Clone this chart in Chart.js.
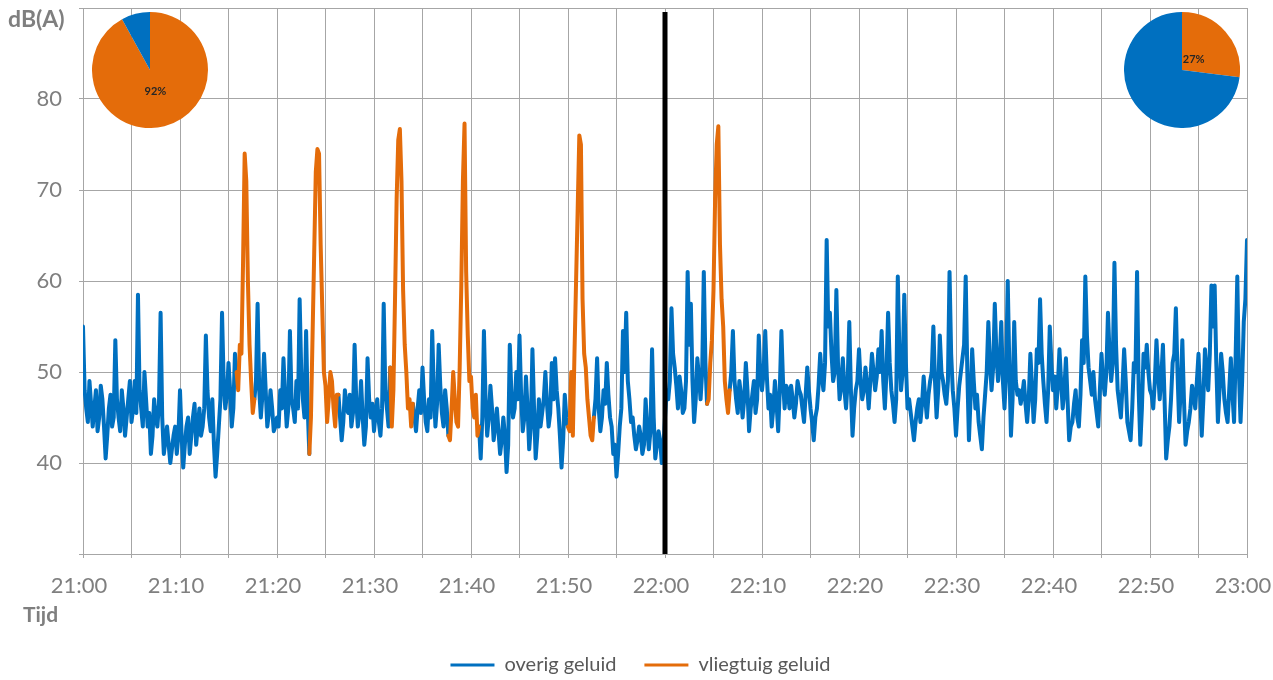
<!DOCTYPE html>
<html>
<head>
<meta charset="utf-8">
<script src="https://cdn.jsdelivr.net/npm/chart.js@4/dist/chart.umd.min.js"></script>
<style>
  body { margin: 0; background: #fff; }
  #wrap { position: relative; width: 1273px; height: 680px; }
  #taart1, #taart2 { position: absolute; top: 12px; }
  #taart1 { left: 92px; }
  #taart2 { left: 1124px; }
</style>
</head>
<body>
<div id="wrap">
  <canvas id="grafiek" width="1273" height="680"></canvas>
  <canvas id="taart1" width="116" height="116"></canvas>
  <canvas id="taart2" width="116" height="116"></canvas>
</div>
<script>
// tijd in seconden na 21:00, elke 10 seconden een meting
const stapOverig = 10;
const overig = [
  // 21:00
  55,48,46,44.5,49,46.5,44,46,48,43.5,45,48.5,47,44,40.5,43,46,47.5,44,45,53.5,47,45,43.5,48,46,43,45,47,49,
  44.5,46,49,45.5,58.5,48,46,44,50,47,44,45.5,41,43,47,45,44,46.5,56.5,45,41,42.5,44,42,40,41.5,43,44,41,43,
  // 21:10
  48,43,39.5,42,44,45,41,43,45,46.5,42,44,46,43,44,46,54,48,45,43.5,47,42,38.5,41,44,47,56.5,49,46,47.5,
  51,48,44,46,52,50,null,null,null,null,null,null,null,null,null,null,47,49,57.5,48,45,47.5,52,48,44,45.5,48,46,43.5,44,
  // 21:20
  45,44,48,46,51.5,47.5,44,46,54.5,47,46,44.5,49,46,58,50,47,45,54.5,46,41,
  null,null,null,null,null,null,null,null,null,null,null,null,null,null,null,null,null,
  47.5,45,42.5,44.5,48,46,45.5,47.5,44,45.5,53,47,44,45.5,49,45,42,44,51.5,47,45,46.5,
  // 21:30
  43.5,45.5,47,44.5,43,46,57.5,48,46,44,50.5,
  null,null,null,null,null,null,null,null,null,null,null,null,null,
  46.5,45,43.5,46,48,45.5,50.5,47,44.5,43.5,47,45,54.5,48,44,46.5,53,48.5,45.5,44,48,46,43,
  null,null,null,null,null,null,null,null,null,null,null,null,null,
  // 21:40
  null,null,null,null,null,44,40.5,45,54.5,47,43,45,48.5,46,42.5,44,46,43.5,41,42.5,45,43,39,42,53,47.5,45,46,50,47,
  54,47.5,43.5,45,49.5,46,41.5,44,52.5,46,40.5,43,47,44,45.5,47,50,46.5,44,45.5,51,47,51.5,48,46,43,39.5,42.5,47.5,45,
  // 21:50
  44,null,null,null,null,null,null,null,null,null,null,null,null,null,null,null,
  45,47,51.5,46,43.5,45,48,46.5,51,47.5,45,44,41,42,38.5,41,44,46,54.5,50,56.5,49,47,44.5,45,43,41.5,42.5,
  44,43,41,42,47,44,41.5,43.5,52.5,45,40.5,42,43.5,42.5,40,41.5,
  // 22:00
  45,48,47,49,57,52,50.5,48.5,46,49.5,48,45.5,46,49,61,53,57.5,49,44.5,47,51.5,49.5,47,50,61,51,46.5,
  null,null,null,null,null,null,null,null,null,null,null,null,null,
  48,50,54.5,49,47,45.5,49,47.5,45,47,51,48,43.5,46,47.5,49,45.5,47,54,49.5,
  // 22:10
  48,50,54.5,49.5,46,47.5,44,46,49,46.5,43.5,48,54.5,49,46,48.5,48,46,48.5,47,45,46.5,49,48,47.5,46,44.5,47.5,50.5,48,
  46,44.5,42.5,45,46,48.5,52,49.5,48,51,64.5,55,56.5,52,49,50,59,51,47,48.5,51.5,48,46,49,55.5,48,43,46,48,49,
  // 22:20
  52.5,49,47,48,50.5,48.5,46,49,52,50,48,49.5,52.5,50,54.5,49,46,50,56.5,51,48,46.5,44.5,47,60.5,52,48,50,58.5,51,
  46,47,45.5,44,42.5,44.5,46,47,44.5,46.5,49.5,47,45,47.5,49,50,55,49,45,48,54,50,49,47.5,46.5,49,61,52,48,46,
  // 22:30
  43,46,48.5,50,51.5,53,60.5,50,42.5,47,52.5,49,46,47.5,44.5,43,41.5,45,47.5,50,55.5,51,48,50.5,57.5,52,49,51,55.5,49,
  46,50,60,50.5,43,47,55.5,49,47.5,48,46.5,47.5,49,46.5,44.5,47,52,48.5,44.5,47,52.5,51,58,52,49,46.5,44.5,48,55,51,
  // 22:40
  48,49.5,46,48.5,52.5,49,46,48,51.5,47,42.5,44,44.5,46.5,48,45,44,47.5,53.5,51,60.5,54,50.5,49,47.5,50,47,45.5,44,48,
  52,49,47.5,50,56.5,52,49,51,62,53,48,46.5,45,48.5,52.5,49,44.5,43.5,42.5,46,51,50,61,48,42,46,52,50.5,53,50,
  // 22:50
  48,47.5,46,49,53.5,50,47,49.5,53,47,40.5,42.5,44,47,51,52,57,50,44.5,48,53.5,47,42,43.5,44.5,46,48.5,47.5,46,49,
  52,47.5,43,47,52.5,50,48,52,59.5,55,59.5,51,44.5,48,52,50,47,45.5,44.5,48,51.5,47.5,44.5,52,60.5,50,44.5,49,55.5,58,
  64.5
];

// vliegtuigpassages, elke 10 seconden
const stapVlieg = 10;
const vliegStart = [960, 1410, 1910, 2270, 3010, 3870];
const vlucht1 = [48,53,52,62,74,71,60,53,49,45.5];
const vlucht2 = [45,54,63,72,74.5,74,64,57,50,48.5,44.5,47,50,49,46,44,47.5];
const vlucht3 = [44,48,58,69,75.5,76.7,71,59,53,50,46,47,44];
const vlucht4 = [42.5,46,50,47,44.5,44,50.5,59.5,71,77.3,61,54,49,49.5,46,45,47.5,43];
const vlucht5 = [43.5,50,43,52,60,68,76,75,58,52,50.5,47,45,43,42.5];
const vlucht6 = [47,51,53.5,59,69,75,77,64,58,55,49,47,45.5];
const vluchten = [vlucht1, vlucht2, vlucht3, vlucht4, vlucht5, vlucht6];

const tijdLabels = ['21:00','21:10','21:20','21:30','21:40','21:50','22:00','22:10','22:20','22:30','22:40','22:50','23:00'];
const scheiding = 3600;

const taartLinks = [92, 8];
const taartRechts = [27, 73];

const blauw = '#0070C0';
const oranje = '#E46C0A';

const overigData = overig.map((v, i) => ({x: i * stapOverig, y: v}));

const vliegData = [];
vluchten.forEach((waarden, k) => {
    const start = vliegStart[k];
    const eind = start + (waarden.length - 1) * stapVlieg;
    const voor = Math.ceil(start / stapOverig) - 1;
    const na = Math.floor(eind / stapOverig) + 1;
    vliegData.push({x: voor * stapOverig, y: overig[voor]});
    waarden.forEach((v, j) => vliegData.push({x: start + j * stapVlieg, y: v}));
    vliegData.push({x: na * stapOverig, y: overig[na]});
    vliegData.push({x: na * stapOverig + 1, y: null});
});

const scheidingslijn = {
    id: 'scheidingslijn',
    afterDatasetsDraw(chart) {
        const {ctx, chartArea, scales} = chart;
        const x = scales.x.getPixelForValue(scheiding);
        ctx.save();
        ctx.strokeStyle = '#000';
        ctx.lineWidth = 5;
        ctx.beginPath();
        ctx.moveTo(x, chartArea.top + 4);
        ctx.lineTo(x, chartArea.bottom);
        ctx.stroke();
        ctx.restore();
    }
};

const titels = {
    id: 'titels',
    afterDraw(chart) {
        const ctx = chart.ctx;
        ctx.save();
        ctx.fillStyle = '#7F7F7F';
        ctx.textBaseline = 'alphabetic';
        ctx.font = 'bold 23px Lato';
        ctx.fillText('dB(A)', 8, 27);
        ctx.font = 'bold 21px Lato';
        ctx.fillText('Tijd', 23, 622);
        ctx.restore();
    }
};

// geen extra ruimte voor labels, de marges staan vast
const vastePadding = s => {
    s.paddingTop = 0;
    s.paddingBottom = 0;
    s.paddingLeft = 0;
    s.paddingRight = 0;
};

const gridKleur = '#A6A6A6';
const lijn = {borderWidth: 4, tension: 0, pointRadius: 0, borderJoinStyle: 'round', borderCapStyle: 'round'};

new Chart(document.getElementById('grafiek'), {
    type: 'line',
    data: {
        datasets: [{
            ...lijn,
            label: 'overig geluid',
            data: overigData,
            borderColor: blauw,
            backgroundColor: blauw,
            order: 2
        }, {
            ...lijn,
            label: 'vliegtuig geluid',
            data: vliegData,
            borderColor: oranje,
            backgroundColor: oranje,
            order: 1
        }]
    },
    options: {
        responsive: false,
        animation: false,
        events: [],
        layout: {
            autoPadding: false,
            padding: {left: 34, right: 26, top: 8, bottom: -5}
        },
        scales: {
            x: {
                type: 'linear',
                min: 0,
                max: 7200,
                afterFit: s => { s.height = 73; vastePadding(s); },
                grid: {color: gridKleur, tickLength: 4},
                border: {color: gridKleur},
                ticks: {
                    stepSize: 300,
                    autoSkip: false,
                    maxRotation: 0,
                    labelOffset: -4,
                    padding: 15,
                    color: '#7F7F7F',
                    font: {family: 'Lato', size: 22},
                    callback: v => v % 600 === 0 ? tijdLabels[v / 600] : ''
                }
            },
            y: {
                min: 30,
                max: 90,
                afterFit: s => { s.width = 49; vastePadding(s); },
                grid: {color: gridKleur, tickLength: 4},
                border: {color: gridKleur},
                ticks: {
                    stepSize: 10,
                    padding: 17,
                    color: '#7F7F7F',
                    font: {family: 'Lato', size: 22},
                    callback: v => (v > 30 && v < 90) ? v : ''
                }
            }
        },
        plugins: {
            tooltip: {enabled: false},
            legend: {
                position: 'bottom',
                labels: {
                    boxWidth: 44,
                    boxHeight: 3,
                    padding: 28,
                    color: '#595959',
                    font: {family: 'Lato', size: 20},
                    sort: (a, b) => a.datasetIndex - b.datasetIndex,
                    generateLabels: chart => Chart.defaults.plugins.legend.labels.generateLabels(chart)
                        .map(l => ({...l, lineWidth: 0, fillStyle: l.strokeStyle}))
                }
            }
        }
    },
    plugins: [scheidingslijn, titels]
});

const taartLabel = {
    id: 'taartLabel',
    afterDatasetsDraw(chart, args, opts) {
        const arc = chart.getDatasetMeta(0).data[0];
        const mid = (arc.startAngle + arc.endAngle) / 2;
        const r = arc.outerRadius * opts.afstand;
        const ctx = chart.ctx;
        ctx.save();
        ctx.fillStyle = '#262626';
        ctx.font = 'bold 11px Lato';
        ctx.textAlign = 'center';
        ctx.textBaseline = 'middle';
        ctx.fillText(chart.data.datasets[0].data[0] + '%', arc.x + Math.cos(mid) * r, arc.y + Math.sin(mid) * r);
        ctx.restore();
    }
};

function taart(id, waarden, afstand) {
    new Chart(document.getElementById(id), {
        type: 'pie',
        data: {
            labels: ['vliegtuig geluid', 'overig geluid'],
            datasets: [{data: waarden, backgroundColor: [oranje, blauw], borderWidth: 0}]
        },
        options: {
            responsive: false,
            animation: false,
            events: [],
            plugins: {
                legend: {display: false},
                tooltip: {enabled: false},
                taartLabel: {afstand: afstand}
            }
        },
        plugins: [taartLabel]
    });
}

taart('taart1', taartLinks, 0.38);
taart('taart2', taartRechts, 0.27);
</script>
</body>
</html>
